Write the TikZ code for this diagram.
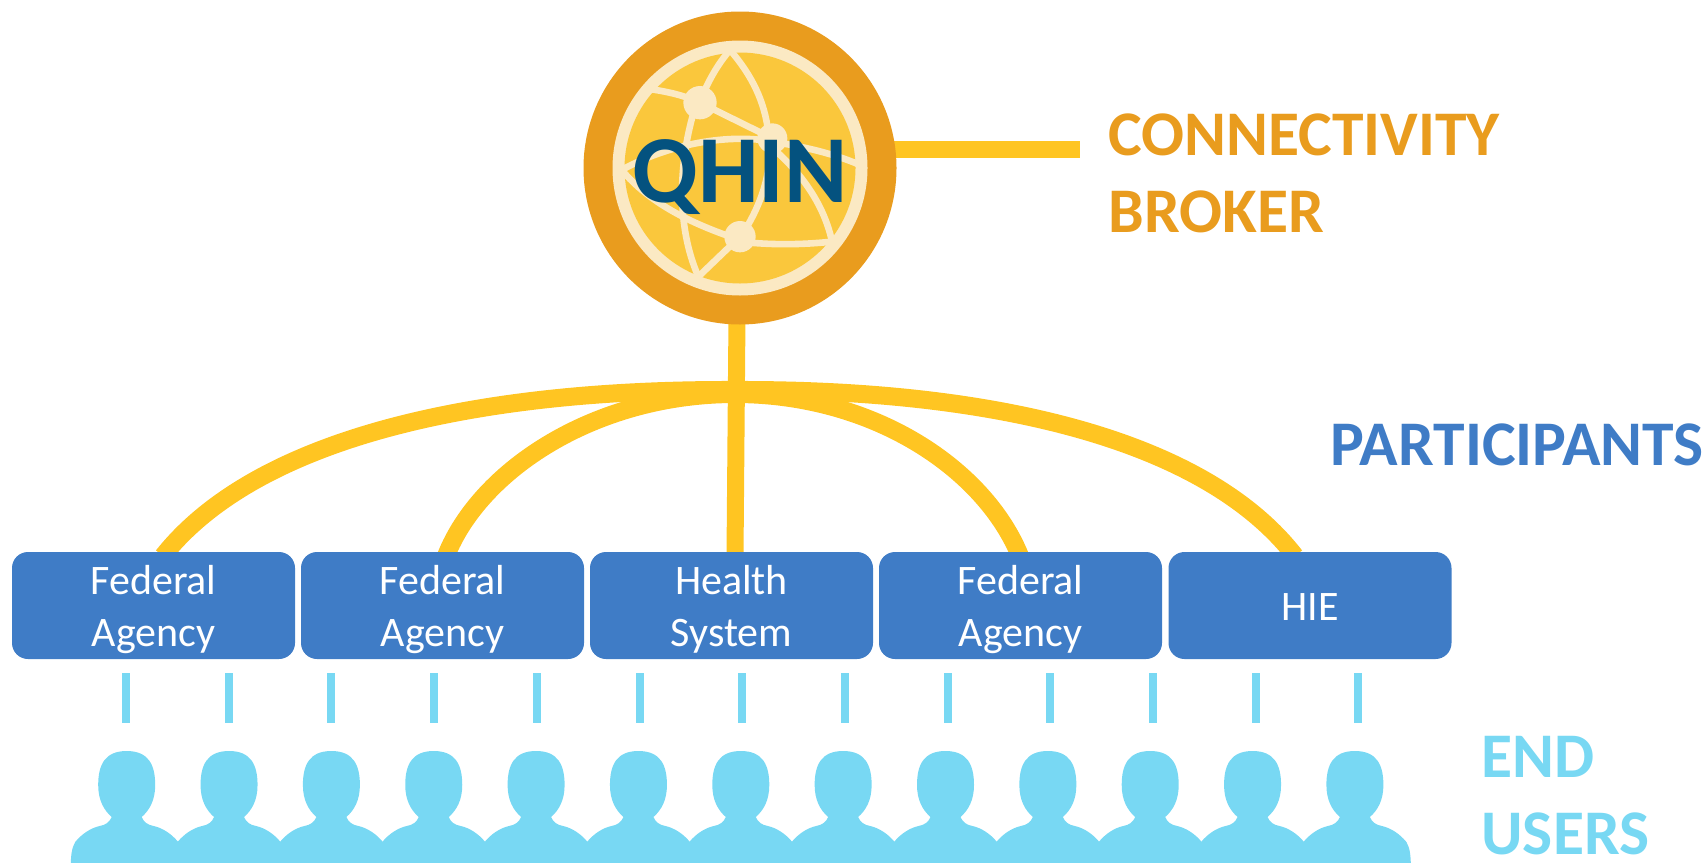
\documentclass[tikz,border=0pt]{standalone}
\usepackage{fontspec}
\usetikzlibrary{backgrounds}
\setmainfont{Carlito}
\definecolor{ring}{HTML}{E99C1E}
\definecolor{globe}{HTML}{FAC73C}
\definecolor{cream}{HTML}{FBE9C3}
\definecolor{navy}{HTML}{04527F}
\definecolor{boxblue}{HTML}{3F7CC6}
\definecolor{link}{HTML}{FFC522}
\definecolor{sky}{HTML}{78D8F3}
\tikzset{
  x=0.5pt,y=-0.5pt,
  agency/.style={fill=boxblue,rounded corners=8pt,minimum width=141.5pt,minimum height=53.5pt,inner sep=0pt},
  agencytext/.style={text=white,align=center,inner sep=0pt,font=\fontsize{21}{26}\selectfont},
  heading/.style={font=\fontsize{31.8}{38.5}\selectfont\bfseries,anchor=south west,align=left,inner sep=0pt,text depth=0pt},
  linkline/.style={draw=link,line width=8.5pt},
  arcline/.style={draw=link,line width=9pt},
  endline/.style={draw=sky,line width=4pt},
  gline/.style={draw=cream,line width=3.3pt},
  gnode/.style={fill=cream},
}
\begin{document}
\begin{tikzpicture}
\useasboundingbox (0,0) rectangle (1707,862);
\clip (0,0) rectangle (1707,862);
% boxes
\node[agency] (b1) at (153.5,605.5) {};
\node[agency] (b2) at (442.5,605.5) {};
\node[agency] (b3) at (731.5,605.5) {};
\node[agency] (b4) at (1020.5,605.5) {};
\node[agency] (b5) at (1310,605.5) {};
\node[agencytext] (t1) at (153.5,610) {Federal\\Agency};
\node[agencytext] (t2) at (442.5,610) {Federal\\Agency};
\node[agencytext] (t3) at (731.5,609) {Health\\System};
\node[agencytext] (t4) at (1020.5,610) {Federal\\Agency};
\node[agencytext] (t5) at (1310,607) {HIE};
% hub
\node[circle,fill=ring,minimum size=156.5pt,inner sep=0pt] (qhin) at (740,168) {};
\node[circle,fill=cream,minimum size=127.5pt,inner sep=0pt] (ringin) at (740,168) {};
\node[circle,fill=globe,minimum size=115.5pt,inner sep=0pt] (gl) at (740,168) {};
% connectors behind boxes and hub
\coordinate (o1) at (163,556);
\coordinate (o2) at (1295,556);
\coordinate (apexA) at (735,390);
\coordinate (i1) at (446,556);
\coordinate (i2) at (1020,556);
\coordinate (apexB) at (735,394);
\coordinate (brokerEnd) at (1080,149);
\coordinate (brokerStart) at (880,149);
\coordinate (hubFoot) at (737,315);
\coordinate (sysTop) at (735,556);
\begin{scope}[on background layer]
\draw[linkline] (brokerStart) -- (brokerEnd);
\draw[arcline] (o1) .. controls (255,440) and (470,389) .. (apexA) .. controls (995,389) and (1205,440) .. (o2);
\draw[arcline] (i1) .. controls (480,470) and (595,394) .. (apexB) .. controls (875,394) and (985,470) .. (i2);
\draw[linkline] (hubFoot) -- (sysTop);
\end{scope}
% globe (coordinates of a 3x crop)
\begin{scope}[shift={(570,0)},x=0.16667pt,y=-0.16667pt]
\fill[gnode] (390,308) circle (50);
\fill[gnode] (607,415) circle (45);
\fill[gnode] (510,710) circle (47);
\draw[gline] (480,150) .. controls (445,190) and (420,235) .. (400,280);
\draw[gline] (480,150) .. controls (545,225) and (585,305) .. (595,400);
\draw[gline] (595,400) .. controls (610,500) and (580,600) .. (525,690);
\draw[gline] (390,308) .. controls (340,285) and (290,275) .. (245,268);
\draw[gline] (390,308) -- (607,415);
\draw[gline] (370,340) .. controls (330,480) and (315,670) .. (385,830);
\draw[gline] (155,510) .. controls (300,430) and (480,400) .. (607,425) .. controls (700,440) and (790,460) .. (870,495);
\draw[gline] (155,510) .. controls (240,610) and (360,670) .. (510,720);
\draw[gline] (510,710) -- (385,830);
\draw[gline] (510,725) .. controls (600,735) and (690,735) .. (785,725);
\draw[gline] (590,430) .. controls (690,510) and (760,610) .. (785,720);
\end{scope}
\node[font=\fontsize{48}{48}\selectfont\bfseries,text=navy,inner sep=0pt,anchor=base] (qlabel) at (740,202) {QHIN};
% end-user ticks and people
\foreach \i in {0,...,12}{
  \coordinate (t\i) at ({126+102.7*\i},673);
  \coordinate (u\i) at ({126+102.7*\i},723);
  \draw[endline] (t\i) -- (u\i);
  \begin{scope}[shift={({126.7+102.35*\i},0)}]
  \fill[sky] (0,751) .. controls (22,751) and (28.5,765) .. (28.5,785)
    .. controls (28.5,800) and (23,810) .. (15,817)
    .. controls (17,822) and (21,825) .. (27,826)
    .. controls (36,828) and (45,834) .. (51.5,842)
    .. controls (55,848) and (56,855) .. (56,870)
    -- (-56,870)
    .. controls (-56,855) and (-55,848) .. (-51.5,842)
    .. controls (-45,834) and (-36,828) .. (-27,826)
    .. controls (-21,825) and (-17,822) .. (-15,817)
    .. controls (-23,810) and (-28.5,800) .. (-28.5,785)
    .. controls (-28.5,765) and (-22,751) .. (0,751) -- cycle;
  \end{scope}
}
% headings
\node[heading,text=ring] (broker) at (1108,233) {CONNECTIVITY\\BROKER};
\node[heading,text=boxblue] (part) at (1330,466) {PARTICIPANTS};
\node[heading,text=sky] (users) at (1481,855) {END\\USERS};
\end{tikzpicture}
\end{document}
